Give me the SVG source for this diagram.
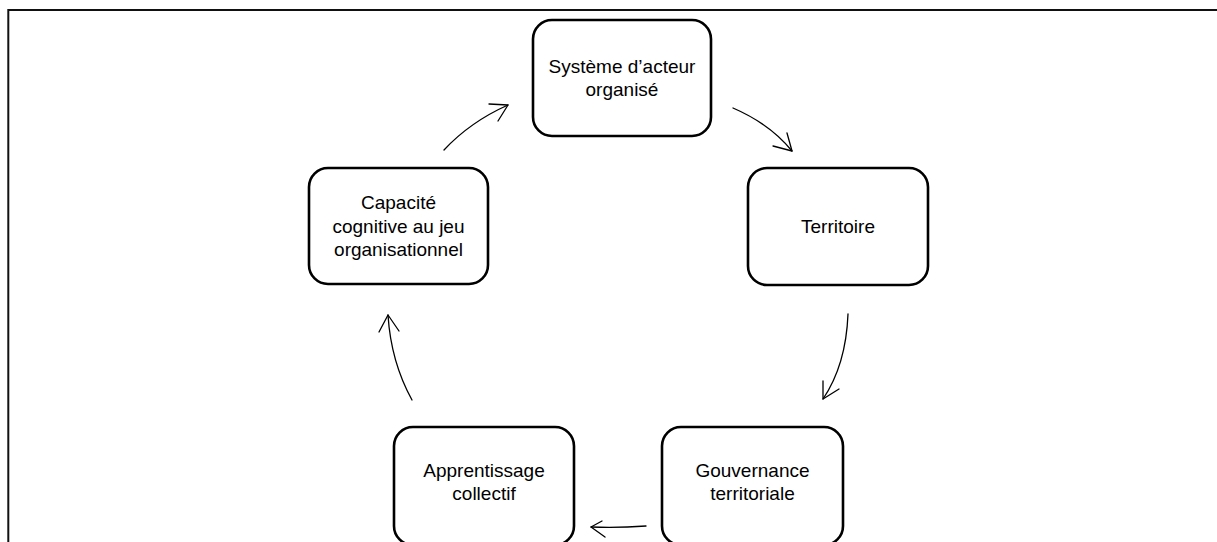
<svg xmlns="http://www.w3.org/2000/svg" width="1217" height="542" viewBox="0 0 1217 542">
  <style>
    .box { fill: #ffffff; stroke: #000000; stroke-width: 2.6; }
    .lbl { font-family: "Liberation Sans", Arial, sans-serif; font-size: 19px; fill: #000000; text-anchor: middle; }
    .edge { fill: none; stroke: #000000; stroke-width: 1.3; stroke-linecap: round; stroke-linejoin: round; }
    .frame { fill: none; stroke: #111111; stroke-width: 2; }
  </style>
  <rect x="0" y="0" width="1217" height="542" fill="#ffffff"/>

  <!-- page frame -->
  <path class="frame" d="M8.3,542 V10 H1217"/>

  <!-- nodes -->
  <g id="node-systeme">
    <rect class="box" x="533" y="20" width="178" height="116" rx="19"/>
    <text class="lbl" x="622" y="73">Système d’acteur</text>
    <text class="lbl" x="622" y="96">organisé</text>
  </g>
  <g id="node-territoire">
    <rect class="box" x="748" y="168" width="180" height="117" rx="19"/>
    <text class="lbl" x="838" y="233">Territoire</text>
  </g>
  <g id="node-gouvernance">
    <rect class="box" x="662" y="427" width="181" height="118" rx="19"/>
    <text class="lbl" x="752.5" y="477">Gouvernance</text>
    <text class="lbl" x="752.5" y="500">territoriale</text>
  </g>
  <g id="node-apprentissage">
    <rect class="box" x="394" y="427" width="180" height="118" rx="19"/>
    <text class="lbl" x="484" y="477">Apprentissage</text>
    <text class="lbl" x="484" y="500">collectif</text>
  </g>
  <g id="node-capacite">
    <rect class="box" x="309" y="168" width="179" height="116" rx="19"/>
    <text class="lbl" x="398.5" y="209">Capacité</text>
    <text class="lbl" x="398.5" y="233">cognitive au jeu</text>
    <text class="lbl" x="398.5" y="256">organisationnel</text>
  </g>

  <!-- connectors: curved strokes with open arrowheads -->
  <g id="connectors">
    <path class="edge" d="M444,150 Q470,122 508,105"/>
    <path class="edge" d="M489,104 L508,105 L498,121"/>

    <path class="edge" d="M733,108 Q770,124 792,151"/>
    <path class="edge" d="M773,146 L792,151 L787,133"/>

    <path class="edge" d="M848,314 Q846,365 823,399"/>
    <path class="edge" d="M823,381 L823,399 L839,389"/>

    <path class="edge" d="M646,526 Q618,528 591,527"/>
    <path class="edge" d="M602,521 L591,527 L605,537"/>

    <path class="edge" d="M412,400 Q391,362 388,315"/>
    <path class="edge" d="M379,332 L388,315 L399,331"/>
  </g>
</svg>
